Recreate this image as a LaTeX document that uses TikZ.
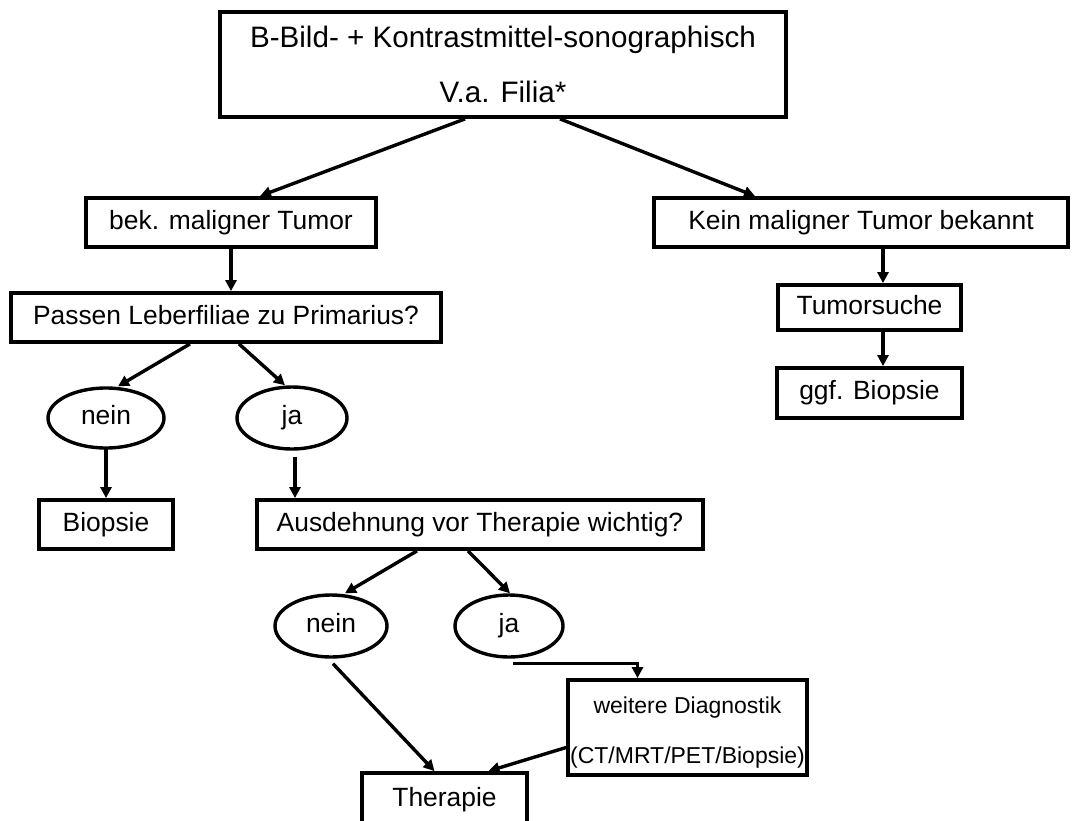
\documentclass[tikz,border=0pt]{standalone}
\usepackage{fontspec}
\setmainfont{Liberation Sans}
\usetikzlibrary{arrows.meta,calc,shapes.geometric}
\tikzset{
  txt/.style={font=\fontsize{26.4}{50}\selectfont},
  bigtxt/.style={font=\fontsize{29.6}{55}\selectfont},
  smalltxt/.style={font=\fontsize{23}{50}\selectfont},
  box/.style={draw, line width=3.8pt, rectangle, inner sep=0pt, align=center, txt},
  one/.style={text height=19pt, text depth=5.5pt},
  oval/.style={draw, line width=3.4pt, ellipse, inner sep=0pt, txt, one},
  arr/.style={line width=3.4pt, -{Triangle[length=11pt,width=11pt]}}
}
\begin{document}
\begin{tikzpicture}[x=1pt,y=-1pt]
\useasboundingbox (0,0) rectangle (1074,820);
\fill[white] (0,0) rectangle (1074,820);
\clip (0,0) rectangle (1074,820);
% boxes
\node[box, bigtxt, minimum width=566pt, minimum height=105pt] (top) at (503,64.5) {B-Bild- + Kontrastmittel-sonographisch\\V.a. Filia*};
\node[box, one, minimum width=290pt, minimum height=49pt] (bek) at (231,222.5) {bek. maligner Tumor};
\node[box, one, minimum width=414pt, minimum height=49pt] (kein) at (861,222.5) {Kein maligner Tumor bekannt};
\node[box, one, minimum width=430pt, minimum height=49pt] (passen) at (226,317.5) {Passen Leberfiliae zu Primarius?};
\node[box, one, minimum width=183pt, minimum height=45pt] (tsuche) at (869.5,307.5) {Tumorsuche};
\node[box, one, minimum width=185pt, minimum height=50pt] (ggf) at (869.5,393) {ggf. Biopsie};
\node[oval, minimum width=116pt, minimum height=60pt] (nein1) at (106,418) {nein};
\node[oval, minimum width=110pt, minimum height=62pt] (ja1) at (292,418) {ja};
\node[box, one, minimum width=134pt, minimum height=49pt] (bio) at (106,524.5) {Biopsie};
\node[box, one, minimum width=446pt, minimum height=49pt] (ausd) at (480,524.5) {Ausdehnung vor Therapie wichtig?};
\node[oval, minimum width=112pt, minimum height=62pt] (nein2) at (331,626) {nein};
\node[oval, minimum width=108pt, minimum height=62pt] (ja2) at (509,626) {ja};
\node[box, minimum width=239pt, minimum height=95pt] (weit) at (687.5,727.5) {};
\node[smalltxt, align=center, inner sep=0pt] (weittxt) at ([yshift=-5pt]weit.center) {weitere Diagnostik\\(CT/MRT/PET/Biopsie)};
\node[box, one, minimum width=165pt, minimum height=54pt] (ther) at (444.5,800) {Therapie};
\coordinate (rx) at (883,0);
% connectors
\draw[arr] ([xshift=-38pt]top.south) -- ([xshift=29pt]bek.north);
\draw[arr] ([xshift=57pt]top.south) -- ([xshift=-106pt]kein.north);
\draw[arr] (bek.south) -- (bek.south |- passen.north);
\draw[arr] (kein.south -| rx) -- (tsuche.north -| rx);
\draw[arr] (tsuche.south -| rx) -- (ggf.north -| rx);
\draw[arr] ([xshift=-36pt]passen.south) -- ([xshift=12pt]nein1.north);
\draw[arr] ([xshift=13pt]passen.south) -- ([xshift=-7pt]ja1.north);
\draw[arr] ([yshift=3pt]nein1.south) -- (bio.north);
\draw[arr] ([xshift=3pt,yshift=-6pt]ja1.south) -- ([xshift=3pt]ja1.south |- ausd.north);
\draw[arr] ([xshift=-63pt]ausd.south) -- ([xshift=14pt]nein2.north);
\draw[arr] ([xshift=-12pt]ausd.south) -- ([xshift=1pt]ja2.north);
\draw[arr] ([xshift=2pt,yshift=-5pt]nein2.south) -- ([xshift=-10pt]ther.north);
\draw[arr] ([xshift=4pt,yshift=-5pt]ja2.south) -| ([xshift=-50pt]weit.north);
\draw[arr] ([yshift=-20pt]weit.west) -- ([xshift=44pt]ther.north);
\end{tikzpicture}
\end{document}
